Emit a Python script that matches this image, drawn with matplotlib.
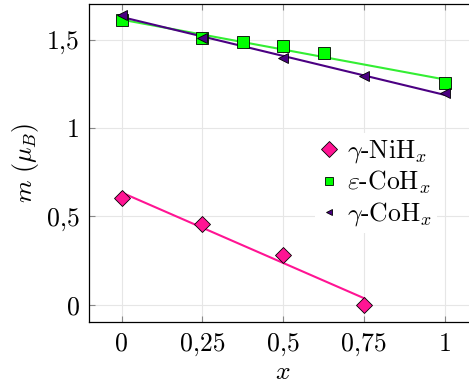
import numpy as np
import matplotlib
matplotlib.use('Agg')
import matplotlib.pyplot as plt
from matplotlib.lines import Line2D

plt.rcParams['font.family'] = 'serif'
plt.rcParams['font.serif'] = ['cmr10']
plt.rcParams['mathtext.fontset'] = 'cm'
plt.rcParams['axes.unicode_minus'] = False

# magnetic moment vs hydrogen content
x_nih = [0, 0.25, 0.5, 0.75]
m_nih = [0.605, 0.458, 0.279, 0.0]

x_eps = [0, 0.25, 0.375, 0.5, 0.625, 1]
m_eps = [1.609, 1.509, 1.487, 1.464, 1.424, 1.255]

x_gam = [0, 0.25, 0.5, 0.75, 1]
m_gam = [1.641, 1.509, 1.396, 1.296, 1.196]

xticks = [0, 0.25, 0.5, 0.75, 1]
xtick_labels = ['0', '0,25', '0,5', '0,75', '1']
yticks = [0, 0.5, 1, 1.5]
ytick_labels = ['0', '0,5', '1', '1,5']

pink = '#ff1493'
green = '#00ff00'
green_line = '#33ee33'
purple = '#4b0082'
fs = 18.5

fig = plt.figure(figsize=(4.69, 3.88), dpi=100)
ax = fig.add_axes([0.1904, 0.1693, 0.827, 0.8196])

series = [
    (x_nih, m_nih, pink, pink, 'D', 8, r'$\gamma$-NiH$_x$'),
    (x_eps, m_eps, green_line, green, 's', 8, r'$\varepsilon$-CoH$_x$'),
    (x_gam, m_gam, purple, purple, '<', 7.5, r'$\gamma$-CoH$_x$'),
]

# linear fits first so markers sit on top
for xs, ys, lc, fc, mk, ms, lab in series:
    k, b = np.polyfit(xs, ys, 1)
    xf = np.array([min(xs), max(xs)])
    ax.plot(xf, k * xf + b, color=lc, lw=1.5, zorder=2)

for xs, ys, lc, fc, mk, ms, lab in series:
    ax.plot(xs, ys, ls='none', marker=mk, ms=ms, mfc=fc, mec='black',
            mew=0.6, zorder=3)

ax.set_xlim(-0.1, 1.1)
ax.set_ylim(-0.1, 1.7)
ax.set_xticks(xticks)
ax.set_xticklabels(xtick_labels)
ax.set_yticks(yticks)
ax.set_yticklabels(ytick_labels)
ax.tick_params(direction='in', length=4, color='#888888', labelsize=fs,
               top=True, right=True, pad=7)
ax.grid(True, color='#e6e6e6', lw=0.8)
ax.set_axisbelow(True)
for s in ax.spines.values():
    s.set_linewidth(0.9)

ax.set_xlabel('$x$', fontsize=fs, labelpad=3)
ax.set_ylabel(r'$m\ (\mu_B)$', fontsize=fs, labelpad=4)

handles = [
    Line2D([], [], ls='none', marker='D', ms=8, mfc=pink, mec='black', mew=0.6),
    Line2D([], [], ls='none', marker='s', ms=5.5, mfc=green, mec='black', mew=0.6),
    Line2D([], [], ls='none', marker='<', ms=5, mfc=purple, mec='black', mew=0.6),
]
labels = [s[-1] for s in series]
leg = ax.legend(handles, labels, loc='upper left',
                bbox_to_anchor=(315 / 469, 1 - 133 / 388),
                bbox_transform=fig.transFigure, fontsize=fs,
                frameon=True, fancybox=False, framealpha=1,
                handlelength=0.7, handletextpad=0.35, labelspacing=0.15,
                borderpad=0.2, borderaxespad=0)
leg.get_frame().set_edgecolor('white')
leg.get_frame().set_linewidth(0)

fig.savefig('out.png', dpi=100)
